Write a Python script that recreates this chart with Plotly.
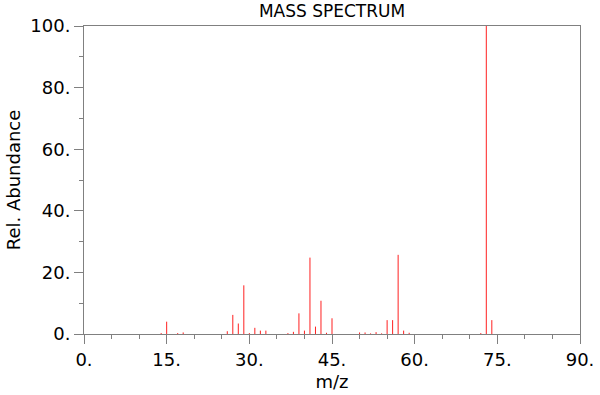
import plotly.graph_objects as go

# m/z values and relative abundances
mz = [14, 15, 17, 18, 26, 27, 28, 29, 30, 31, 32, 33, 37, 38, 39, 40, 41, 42, 43, 44, 45,
      50, 51, 52, 53, 54, 55, 56, 57, 58, 59, 72, 73, 74]
abundance = [0.3, 4.0, 0.3, 0.5, 0.9, 6.2, 3.4, 15.8, 0.3, 2.0, 1.1, 1.1, 0.3, 0.7, 6.7, 1.1,
             24.8, 2.4, 10.8, 0.4, 5.1, 0.5, 0.5, 0.2, 0.6, 0.2, 4.5, 4.5, 25.7, 1.1, 0.4,
             0.3, 100.0, 4.5]

x_tickvals = [0, 15, 30, 45, 60, 75, 90]
x_ticktext = ["0.", "15.", "30.", "45.", "60.", "75.", "90."]
y_tickvals = [0, 20, 40, 60, 80, 100]
y_ticktext = ["0.", "20.", "40.", "60.", "80.", "100."]

# build stick segments from the data
xs, ys = [], []
for m, a in zip(mz, abundance):
    xs += [m, m, None]
    ys += [0, a, None]

fig = go.Figure()
fig.add_trace(go.Scatter(x=xs, y=ys, mode="lines",
                         line=dict(color="#ff2020", width=1),
                         hoverinfo="skip", showlegend=False, cliponaxis=False))

axis_color = "#808080"
font_family = "DejaVu Sans"

fig.update_layout(
    width=600, height=395,
    margin=dict(l=84, r=20, t=26, b=61, autoexpand=False),
    paper_bgcolor="white", plot_bgcolor="white",
    font=dict(family=font_family, color="black"),
    title=dict(text="MASS SPECTRUM", x=0.5, xref="paper", xanchor="center",
               y=1 - 11.5 / 395, yref="container", yanchor="middle", automargin=False,
               font=dict(size=17, family=font_family, color="black")),
    xaxis=dict(range=[0, 90], showgrid=False, zeroline=False, automargin=False,
               showline=True, linecolor=axis_color, linewidth=1, mirror=True,
               ticks="outside", ticklen=9, tickcolor=axis_color, tickwidth=1,
               tickvals=x_tickvals, ticktext=x_ticktext,
               tickfont=dict(size=18, family=font_family, color="black"),
               minor=dict(dtick=5, tick0=0, ticks="outside", ticklen=4,
                          tickcolor=axis_color, tickwidth=1, showgrid=False),
               title=dict(text="m/z", standoff=6,
                          font=dict(size=18, family=font_family, color="black"))),
    yaxis=dict(range=[0, 100], showgrid=False, zeroline=False, automargin=False,
               showline=True, linecolor=axis_color, linewidth=1, mirror=True,
               ticks="outside", ticklen=9, tickcolor=axis_color, tickwidth=1,
               tickvals=y_tickvals, ticktext=y_ticktext,
               tickfont=dict(size=18, family=font_family, color="black"),
               minor=dict(dtick=10, tick0=0, ticks="outside", ticklen=4,
                          tickcolor=axis_color, tickwidth=1, showgrid=False),
               title=dict(text="Rel. Abundance", standoff=5,
                          font=dict(size=18, family=font_family, color="black"))),
)

# remove the browser's default 8px body margin so the figure fills the window
fig.write_html("out.html", config={"displayModeBar": False},
               post_script="document.body.style.margin='0';")
